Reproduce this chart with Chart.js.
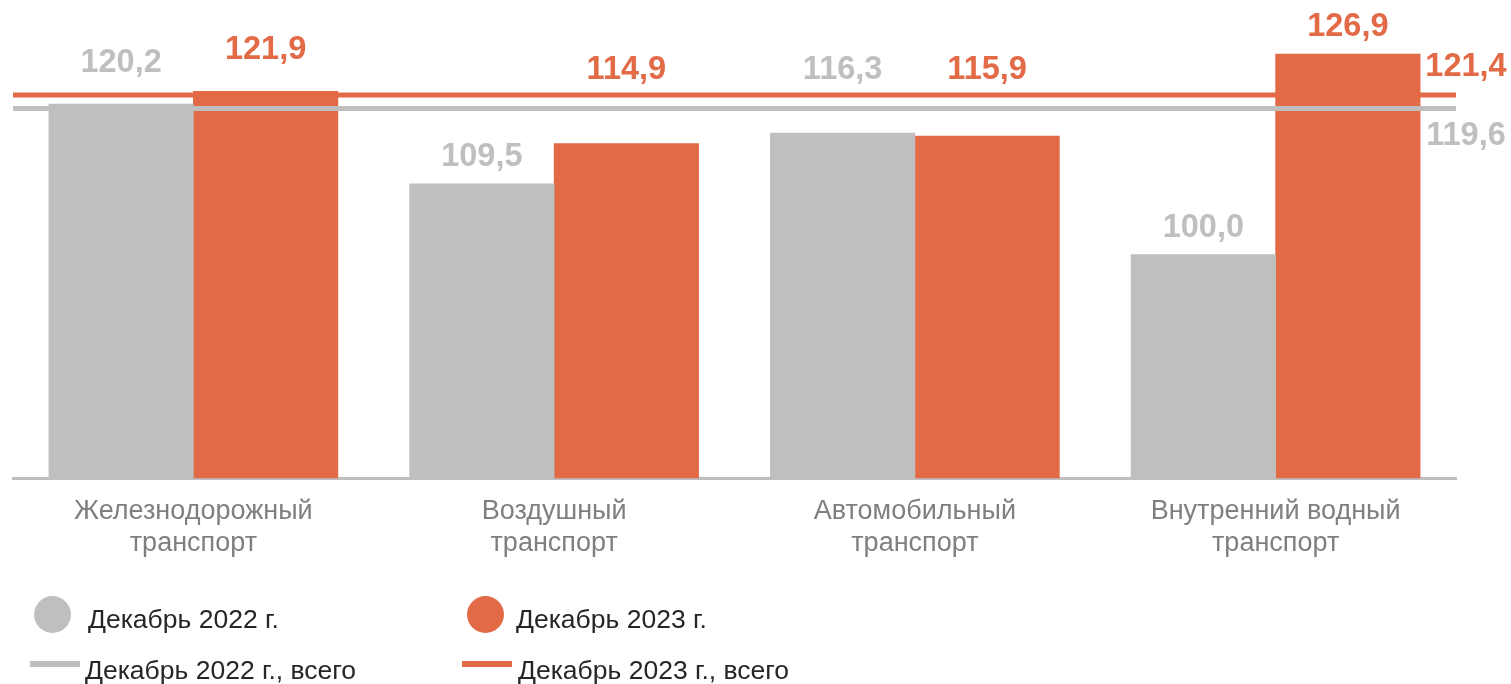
<!DOCTYPE html>
<html lang="ru">
<head>
<meta charset="utf-8">
<title>Транспорт</title>
<script src="https://cdn.jsdelivr.net/npm/chart.js@4.4.1/dist/chart.umd.min.js"></script>
<style>
  body { margin: 0; background: #fff; }
  #wrap { position: relative; width: 1511px; height: 684px; overflow: hidden; }
  #transportCanvas { position: absolute; left: 0; top: 0; }
  .legend-text { position: absolute; font-family: "Liberation Sans", Arial, sans-serif; font-size: 26.5px; line-height: 26px; color: #262626; white-space: nowrap; }
  .legend-dot { position: absolute; width: 37px; height: 37px; border-radius: 50%; }
  .legend-line { position: absolute; width: 50px; height: 6px; }
</style>
</head>
<body>
<div id="wrap">
  <canvas id="transportCanvas" width="1511" height="684"></canvas>
  <div id="legend"></div>
</div>
<script>
// data
const categories = [
    ["Железнодорожный", "транспорт"],
    ["Воздушный", "транспорт"],
    ["Автомобильный", "транспорт"],
    ["Внутренний водный", "транспорт"]
];
const dec2022 = [120.2, 109.5, 116.3, 100.0];
const dec2023 = [121.9, 114.9, 115.9, 126.9];
const total2022 = 119.6;
const total2023 = 121.4;
const seriesNames = ["Декабрь 2022 г.", "Декабрь 2023 г.", "Декабрь 2022 г., всего", "Декабрь 2023 г., всего"];

const GRAY = '#bfbfbf';
const RED = '#e36a47';
const FONT = '"Liberation Sans", Arial, sans-serif';

//---------------------- LEGEND (html)

const legendItems = [
    { kind: 'dot', color: GRAY, markLeft: 33.5, markTop: 595.5, textLeft: 88, textTop: 606, text: seriesNames[0] },
    { kind: 'dot', color: RED, markLeft: 466.5, markTop: 595.5, textLeft: 516, textTop: 606, text: seriesNames[1] },
    { kind: 'line', color: GRAY, markLeft: 30, markTop: 661, textLeft: 85, textTop: 657, text: seriesNames[2] },
    { kind: 'line', color: RED, markLeft: 462, markTop: 661, textLeft: 518, textTop: 657, text: seriesNames[3] }
];
const legendBox = document.getElementById("legend");
legendItems.forEach(item => {
    const mark = document.createElement('div');
    mark.className = item.kind === 'dot' ? 'legend-dot' : 'legend-line';
    mark.style.left = item.markLeft + 'px';
    mark.style.top = item.markTop + 'px';
    mark.style.background = item.color;
    legendBox.appendChild(mark);
    const label = document.createElement('div');
    label.className = 'legend-text';
    label.style.left = item.textLeft + 'px';
    label.style.top = item.textTop + 'px';
    label.textContent = item.text;
    legendBox.appendChild(label);
});

//---------------------- LABELS PLUGIN

function formatValue(v) {
    return v.toFixed(1).replace('.', ',');
}

const valueLabels = {
    id: 'valueLabels',
    afterDatasetsDraw(chart) {
        const ctx = chart.ctx;
        const yScale = chart.scales.y;
        const totals = [total2022, total2023];
        const linePx = totals.map(v => yScale.getPixelForValue(v));
        const lineTop = Math.min(...linePx) - 3;
        const lineBottom = Math.max(...linePx) + 3;
        const capH = 23;
        ctx.save();
        ctx.font = 'bold 32.5px ' + FONT;
        ctx.textAlign = 'center';
        ctx.textBaseline = 'alphabetic';
        chart.data.datasets.forEach((ds, i) => {
            const meta = chart.getDatasetMeta(i);
            ctx.fillStyle = ds.labelColor;
            if (ds.type === 'line') {
                // total labels sit at the right end: upper line above, lower line below
                const el = meta.data[meta.data.length - 1];
                const highest = ds.data[0].y === Math.max(...totals);
                const y = highest ? el.y - 19 : el.y + 13 + capH;
                ctx.fillText(formatValue(ds.data[0].y), el.x + 10, y);
                return;
            }
            meta.data.forEach((el, idx) => {
                const t = el.y;
                let b;
                if (t < lineTop - 30) {
                    b = t - 18;
                } else if (t - 18 - capH > lineBottom + 6) {
                    b = t - 18;
                } else {
                    // keep label clear of the total lines
                    b = Math.min(lineTop - 13, t - 32);
                }
                ctx.fillText(formatValue(ds.data[idx]), el.x, b);
            });
        });
        ctx.restore();
    }
};

//---------------------- CHART

const myChart = new Chart(document.getElementById("transportCanvas").getContext("2d"), {
    type: 'bar',
    data: {
        labels: categories,
        datasets: [
            {
                type: 'line',
                label: seriesNames[3],
                xAxisID: 'x2',
                data: [{ x: 0, y: total2023 }, { x: 1, y: total2023 }],
                borderColor: RED,
                labelColor: RED,
                borderWidth: 5,
                pointRadius: 0,
                order: 0
            },
            {
                type: 'line',
                label: seriesNames[2],
                xAxisID: 'x2',
                data: [{ x: 0, y: total2022 }, { x: 1, y: total2022 }],
                borderColor: GRAY,
                labelColor: GRAY,
                borderWidth: 5,
                pointRadius: 0,
                order: 0
            },
            {
                label: seriesNames[0],
                data: dec2022,
                backgroundColor: GRAY,
                labelColor: GRAY,
                barThickness: 144.5,
                order: 1
            },
            {
                label: seriesNames[1],
                data: dec2023,
                backgroundColor: RED,
                labelColor: RED,
                barThickness: 144.5,
                order: 1
            }
        ]
    },
    options: {
        responsive: false,
        animation: false,
        layout: {
            padding: { top: 31, left: 13, right: 55, bottom: 107 }
        },
        plugins: {
            legend: { display: false },
            tooltip: { enabled: false }
        },
        scales: {
            x: {
                type: 'category',
                grid: { display: false, drawTicks: false },
                border: { display: true, color: GRAY, width: 3 },
                ticks: {
                    color: '#7f7f7f',
                    padding: 17,
                    font: { family: FONT, size: 27, lineHeight: 1.2 }
                }
            },
            x2: {
                type: 'linear',
                display: false,
                offset: false,
                min: 0,
                max: 1
            },
            y: {
                display: false,
                min: 70,
                max: 130
            }
        }
    },
    plugins: [valueLabels]
});
</script>
</body>
</html>
